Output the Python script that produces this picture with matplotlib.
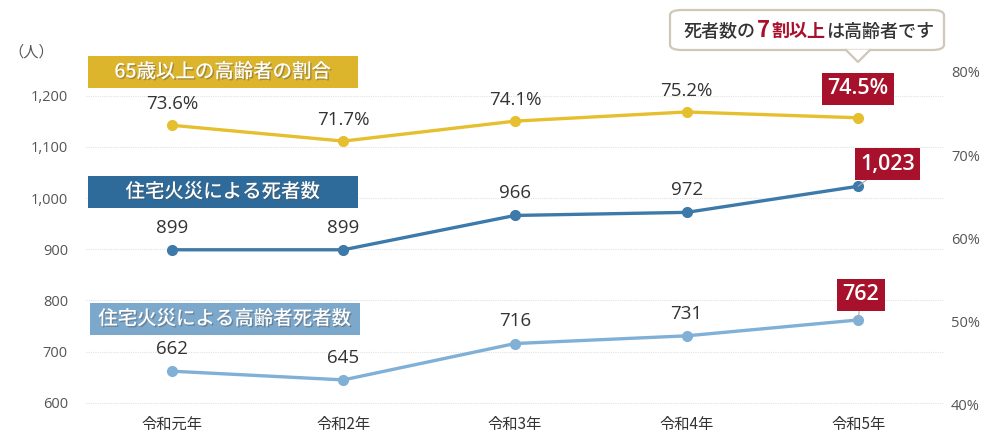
import matplotlib
matplotlib.use("Agg")
import matplotlib.pyplot as plt
import matplotlib.patches as mpatches
import matplotlib.patheffects as pe

plt.rcParams['font.family'] = ['Noto Sans CJK JP', 'DejaVu Sans']
NUMF = ['Open Sans', 'Noto Sans CJK JP']

years = ["令和元年", "令和2年", "令和3年", "令和4年", "令和5年"]
ratio = [73.6, 71.7, 74.1, 75.2, 74.5]          # 65歳以上の高齢者の割合 (%)
deaths = [899, 899, 966, 972, 1023]             # 住宅火災による死者数
elderly = [662, 645, 716, 731, 762]             # 住宅火災による高齢者死者数
left_ticks = [600, 700, 800, 900, 1000, 1100, 1200]
right_ticks = [40, 50, 60, 70, 80]

YEL = "#e6bf2e"
DBLUE = "#3d7aa9"
LBLUE = "#80b0d6"
RED = "#a8112b"
GRAY = "#555555"

fig = plt.figure(figsize=(9.91, 4.34), dpi=100)
ax = fig.add_axes([86 / 991, 1 - 405 / 434, (944 - 86) / 991, (405 - 72) / 434])
ax2 = ax.twinx()

x = list(range(len(years)))
ax.set_xlim(-0.5, 4.5)
ax.set_ylim(596, 1246)
ax2.set_ylim(40, 80)

for a in (ax, ax2):
    for s in a.spines.values():
        s.set_visible(False)

ax.set_yticks(left_ticks)
ax.set_yticklabels([f"{v:,}" for v in left_ticks], color=GRAY, fontsize=10.5, family=NUMF)
ax2.set_yticks(right_ticks)
ax2.set_yticklabels([f"{v}%" for v in right_ticks], color=GRAY, fontsize=10.5, family=NUMF)
ax.set_xticks(x)
ax.set_xticklabels(years, fontsize=11, color="#333333")
ax.tick_params(axis="x", length=0, pad=8)
ax.tick_params(axis="y", length=0, pad=13)
ax2.tick_params(axis="y", length=0, pad=5)
ax.grid(axis="y", color="#e2e2e2", lw=0.8, ls=(0, (1, 1)))

ax.plot(x, deaths, color=DBLUE, lw=2.4, marker="o", ms=7, zorder=3)
ax.plot(x, elderly, color=LBLUE, lw=2.4, marker="o", ms=7, zorder=3)
ax2.plot(x, ratio, color=YEL, lw=2.4, marker="o", ms=7, zorder=3)

lbl = dict(textcoords="offset points", ha="center", va="center",
           fontsize=13.5, color="#333333", family=NUMF)
box = dict(textcoords="offset points", ha="center", va="center",
           fontsize=15.5, color="white", fontweight="semibold", family=NUMF,
           bbox=dict(boxstyle="square,pad=0.25", fc=RED, ec="none"))

for i in range(4):
    ax2.annotate(f"{ratio[i]}%", (x[i], ratio[i]), xytext=(0, 15), **lbl)
    ax.annotate(f"{deaths[i]:,}", (x[i], deaths[i]), xytext=(0, 16), **lbl)
    ax.annotate(f"{elderly[i]:,}", (x[i], elderly[i]), xytext=(0, 16), **lbl)

ax2.annotate(f"{ratio[4]}%", (x[4], ratio[4]), xytext=(0, 21), **box)
ax.annotate(f"{deaths[4]:,}", (x[4], deaths[4]), xytext=(21, 16),
            arrowprops=dict(arrowstyle="-", color="#aaaaaa", lw=0.8,
                            shrinkA=0, shrinkB=0), **box)
ax.annotate(f"{elderly[4]:,}", (x[4], elderly[4]), xytext=(2, 18),
            arrowprops=dict(arrowstyle="-", color="#aaaaaa", lw=0.8,
                            shrinkA=0, shrinkB=0), **box)

# series name boxes
shadow = [pe.withSimplePatchShadow(offset=(1, -1), alpha=0.4)]
for (x0, y0, col, name) in [(88, 56, "#ddb52c", "65歳以上の高齢者の割合"),
                            (88, 176, "#2f6b9a", "住宅火災による死者数"),
                            (90, 303, "#7ca8cc", "住宅火災による高齢者死者数")]:
    w, h = 270, 32
    fig.add_artist(mpatches.Rectangle((x0 / 991, 1 - (y0 + h) / 434), w / 991, h / 434,
                                      transform=fig.transFigure, fc=col, ec="none", zorder=5))
    fig.text((x0 + w / 2) / 991, 1 - (y0 + h / 2) / 434, name, ha="center", va="center",
             fontsize=14, color="white", fontweight="medium", zorder=6, path_effects=shadow)

fig.text(8 / 991, 1 - 52 / 434, "（人）", fontsize=11, color=GRAY, va="center")

# callout
cb = mpatches.FancyBboxPatch((670 / 991, 1 - 50 / 434), 274 / 991, 40 / 434,
                             boxstyle="round,pad=0,rounding_size=0.012",
                             transform=fig.transFigure, fc="white", ec="#cfc8b8", lw=1.6, zorder=5)
fig.add_artist(cb)
tri = mpatches.Polygon([(846 / 991, 1 - 49.5 / 434), (870 / 991, 1 - 49.5 / 434), (858 / 991, 1 - 62 / 434)],
                       closed=True, transform=fig.transFigure, fc="white", ec="none", zorder=6)
fig.add_artist(tri)
fig.add_artist(plt.Line2D([846 / 991, 858 / 991, 870 / 991], [1 - 50 / 434, 1 - 62 / 434, 1 - 50 / 434],
                          transform=fig.transFigure, color="#cfc8b8", lw=1.6, zorder=6))
t1 = fig.text(684 / 991, 1 - 37 / 434, "死者数の", fontsize=13, color="#333333",
              fontweight="medium", va="baseline", zorder=7)
t2 = fig.text(0, 0, "7", fontsize=16, color=RED, fontweight="bold", va="baseline", zorder=7)
t3 = fig.text(0, 0, "割以上", fontsize=13, color=RED, fontweight="bold", va="baseline", zorder=7)
t4 = fig.text(0, 0, "は高齢者です", fontsize=13, color="#333333", fontweight="medium",
              va="baseline", zorder=7)
fig.canvas.draw()
r = fig.canvas.get_renderer()
prev = t1
for t in (t2, t3, t4):
    bb = prev.get_window_extent(r)
    x_new = bb.x1 / fig.bbox.width
    t.set_position((x_new + 1 / 991, 1 - 37 / 434))
    fig.canvas.draw()
    prev = t

fig.savefig("out.png", dpi=100)
